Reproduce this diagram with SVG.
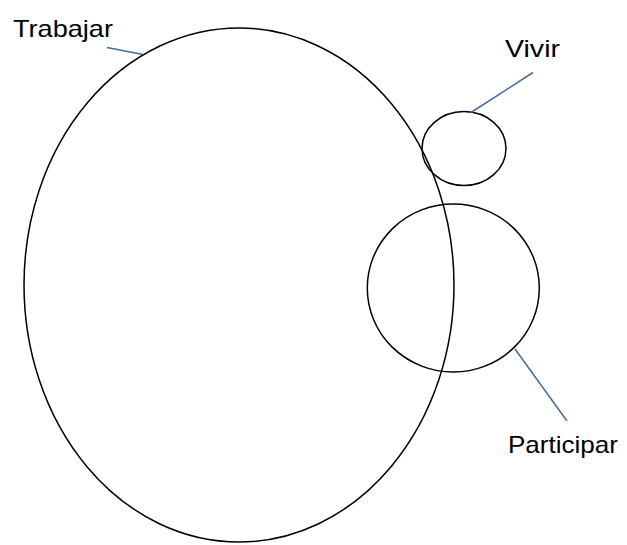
<svg xmlns="http://www.w3.org/2000/svg" width="627" height="545" viewBox="0 0 627 545">
<style>
.shape{fill:none;stroke:#000;stroke-width:1.5}
.conn{fill:none;stroke:#4a6a9e;stroke-width:1.5}
.lbl{font-family:"Liberation Sans",Arial,sans-serif;font-size:24px;fill:#000}
</style>
<rect width="627" height="545" fill="#fff"/>
<g id="trabajar">
<ellipse class="shape" cx="239" cy="285" rx="215" ry="257"/>
<text class="lbl" x="13" y="37" textLength="100" lengthAdjust="spacingAndGlyphs">Trabajar</text>
</g>
<g id="vivir">
<ellipse class="shape" cx="464" cy="148.5" rx="42" ry="37"/>
<text class="lbl" x="505" y="57" textLength="55" lengthAdjust="spacingAndGlyphs">Vivir</text>
</g>
<g id="participar">
<ellipse class="shape" cx="453.3" cy="288" rx="86" ry="84"/>
<text class="lbl" x="508" y="453" textLength="110" lengthAdjust="spacingAndGlyphs">Participar</text>
</g>
<g id="connectors">
<line class="conn" x1="107" y1="47.5" x2="143" y2="54.5"/>
<line class="conn" x1="471" y1="112.5" x2="533" y2="72.5"/>
<line class="conn" x1="515" y1="349" x2="567" y2="421"/>
</g>
</svg>
